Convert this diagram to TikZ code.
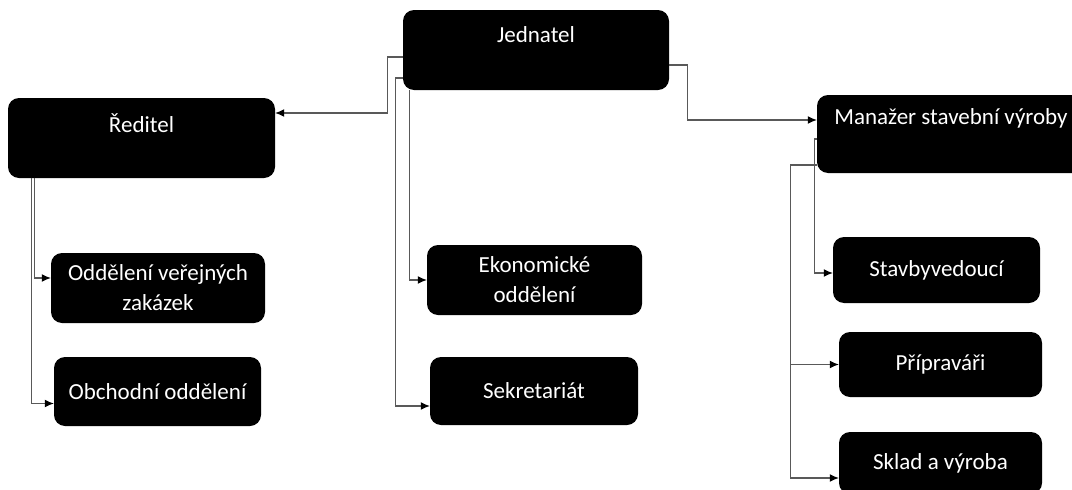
\documentclass[tikz,border=0pt]{standalone}
\usepackage{fontspec}
\setmainfont{Carlito}
\usetikzlibrary{arrows.meta}
\begin{document}
\begin{tikzpicture}[x=1pt,y=-1pt,
  unit/.style={rectangle, rounded corners=11pt, fill=black, text=white, inner sep=0pt, align=center, font=\fontsize{23}{30}\selectfont},
  link/.style={draw=gray!70!black, line width=1.2pt, -{Latex[black,length=9pt,width=8pt]}}]
\useasboundingbox (0,0) rectangle (1072,490);

\node[unit, minimum width=266, minimum height=80, text height=32pt, text depth=48pt] (J)  at (536,50)    {Jednatel};
\node[unit, minimum width=267, minimum height=80, text height=34pt, text depth=46pt] (R)  at (141.5,138) {Ředitel};
\node[unit, minimum width=268, minimum height=78, text height=29pt, text depth=49pt] (M)  at (951,134)   {Manažer stavební výroby};

\node[unit, minimum width=214, minimum height=70] (V)  at (158,288)     {Oddělení veřejných\\zakázek};
\node[unit, minimum width=207, minimum height=69] (O)  at (157.5,391.5) {Obchodní oddělení};
\node[unit, minimum width=215, minimum height=70] (E)  at (534.5,280)   {Ekonomické\\oddělení};
\node[unit, minimum width=208, minimum height=68] (S)  at (534,391)     {Sekretariát};
\node[unit, minimum width=207, minimum height=66] (St) at (936.5,270)   {Stavbyvedoucí};
\node[unit, minimum width=203, minimum height=65] (P)  at (940.5,364.5) {Přípraváři};
\node[unit, minimum width=203, minimum height=62] (Sk) at (940.5,463)   {Sklad a výroba};

% jednatel
\draw[link] ([yshift=-7pt]J.west) -- ++(-15,0) |- ([yshift=25pt]R.east);
\draw[link] ([yshift=-28pt]J.west) -- ++(-7,0) |- ([yshift=-15pt]S.west);
\draw[link] ([xshift=7pt]J.south west) |- (E.west);
\draw[link] ([yshift=-15pt]J.east) -- ++(18,0) |- ([yshift=14pt]M.west);

% reditel
\draw[link] ([xshift=27pt]R.south west) |- ([yshift=10pt]V.west);
\draw[link] ([xshift=24pt]R.south west) |- ([yshift=-12pt]O.west);

% manazer
\draw[link] ([yshift=-5pt]M.west) -- ++(-2,0) |- ([yshift=-3pt]St.west);
\draw[link] ([yshift=-31pt]M.west) -- ++(-26,0) |- (P.west);
\draw[link] ([yshift=-31pt]M.west) -- ++(-26,0) |- ([yshift=-15pt]Sk.west);
\end{tikzpicture}
\end{document}
